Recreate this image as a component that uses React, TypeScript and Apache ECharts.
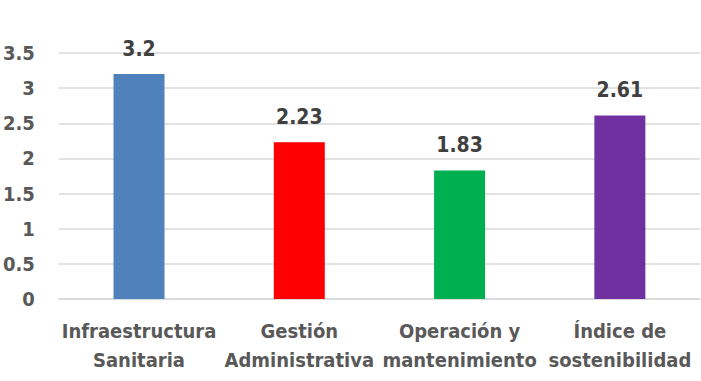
import React, { useEffect, useRef } from "react";
import * as echarts from "echarts";

const categories = ["Infraestructura\nSanitaria", "Gestión\nAdministrativa", "Operación y\nmantenimiento", "Índice de\nsostenibilidad"];
const values = [3.2, 2.23, 1.83, 2.61];
const colors = ["#4F81BD", "#FF0000", "#00B050", "#7030A0"];
const FONT = "'Liberation Sans Narrow', 'DejaVu Sans Condensed', 'Liberation Sans', sans-serif";

export default function App() {
  const ref = useRef<HTMLDivElement>(null);
  useEffect(() => {
    document.body.style.margin = "0";
    const chart = echarts.init(ref.current!, null, { renderer: "svg" });
    chart.setOption({
      animation: false,
      grid: { left: 57, right: 1, top: 53, bottom: 82 },
      xAxis: {
        type: "category",
        data: categories,
        axisLine: { show: true, lineStyle: { color: "#D9D9D9", width: 1.5 } },
        axisTick: { show: false },
        axisLabel: {
          interval: 0,
          color: "#595959",
          fontFamily: FONT,
          fontWeight: "bold",
          fontSize: 20,
          lineHeight: 29,
          margin: 17,
        },
      },
      yAxis: {
        type: "value",
        min: 0,
        max: 3.5,
        interval: 0.5,
        axisLine: { show: false },
        axisTick: { show: false },
        splitLine: { lineStyle: { color: "#D9D9D9", width: 1.5 } },
        axisLabel: {
          color: "#595959",
          fontFamily: FONT,
          fontWeight: "bold",
          fontSize: 20,
          margin: 24,
        },
      },
      series: [
        {
          type: "bar",
          barWidth: 51,
          data: values.map((v, i) => ({ value: v, itemStyle: { color: colors[i] } })),
          label: {
            show: true,
            position: "top",
            distance: 15,
            color: "#404040",
            fontFamily: FONT,
            fontWeight: "bold",
            fontSize: 21,
          },
        },
      ],
    });
    return () => chart.dispose();
  }, []);
  return <div ref={ref} style={{ width: 701, height: 381 }} />;
}
